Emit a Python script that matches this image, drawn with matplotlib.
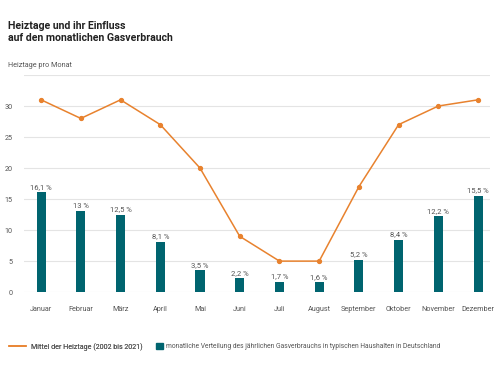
import numpy as np
import matplotlib.pyplot as plt
from matplotlib.lines import Line2D
from matplotlib.patches import Patch

months = ['Januar', 'Februar', 'März', 'April', 'Mai', 'Juni', 'Juli',
          'August', 'September', 'Oktober', 'November', 'Dezember']
heiztage = [31, 28, 31, 27, 20, 9, 5, 5, 17, 27, 30, 31]
gas_share = [16.1, 13, 12.5, 8.1, 3.5, 2.2, 1.7, 1.6, 5.2, 8.4, 12.2, 15.5]
gas_labels = ['16,1 %', '13 %', '12,5 %', '8,1 %', '3,5 %', '2,2 %', '1,7 %',
              '1,6 %', '5,2 %', '8,4 %', '12,2 %', '15,5 %']

orange = '#e8822e'
teal = '#00646f'
gray = '#555555'

plt.rcParams['font.family'] = ['Roboto', 'DejaVu Sans']

fig = plt.figure(figsize=(5, 3.75), dpi=100)
ax = fig.add_axes([0.048, 0.221, 0.932, 0.579])

x = np.arange(len(months))
ax.bar(x, gas_share, width=0.23, color=teal, zorder=2)
for xi, v, lab in zip(x, gas_share, gas_labels):
    ax.text(xi, v + 0.4, lab, ha='center', va='bottom', fontsize=5.5, color=gray)

ax.plot(x, heiztage, color=orange, lw=1.1, marker='o', markersize=2.8, zorder=3)

ax.set_xlim(-0.43, 11.3)
ax.set_ylim(0, 35)
ax.set_yticks(np.arange(0, 36, 5))
ax.set_yticklabels(['0', '5', '10', '15', '20', '25', '30', ''])
ax.set_xticks(x)
ax.set_xticklabels(months)
ax.grid(axis='y', color='#e4e4e4', lw=0.8, zorder=0)
for s in ax.spines.values():
    s.set_visible(False)
ax.tick_params(length=0, labelsize=5.2, colors=gray, pad=10)
ax.tick_params(axis='y', pad=8)

fig.text(0.016, 0.945, 'Heiztage und ihr Einfluss\nauf den monatlichen Gasverbrauch',
         fontsize=7.6, fontweight='bold', color='#222222', va='top', linespacing=1.25)
fig.text(0.016, 0.825, 'Heiztage pro Monat', fontsize=5.2, color=gray, va='center')

leg1 = fig.legend([Line2D([0], [0], color=orange, lw=1.1)],
                  ['Mittel der Heiztage (2002 bis 2021)'],
                  loc='center left', bbox_to_anchor=(0.006, 0.075), frameon=False,
                  fontsize=5.1, labelcolor=gray, handlelength=2.3, handletextpad=0.7)
fig.legend([Patch(color=teal)],
           ['monatliche Verteilung des jährlichen Gasverbrauchs in typischen Haushalten in Deutschland'],
           loc='center left', bbox_to_anchor=(0.3, 0.075), frameon=False,
           fontsize=4.9, labelcolor=gray, handlelength=1.0, handleheight=0.8,
           handletextpad=0.5)
fig.add_artist(leg1)

fig.savefig('out.png', dpi=100, facecolor='white')
